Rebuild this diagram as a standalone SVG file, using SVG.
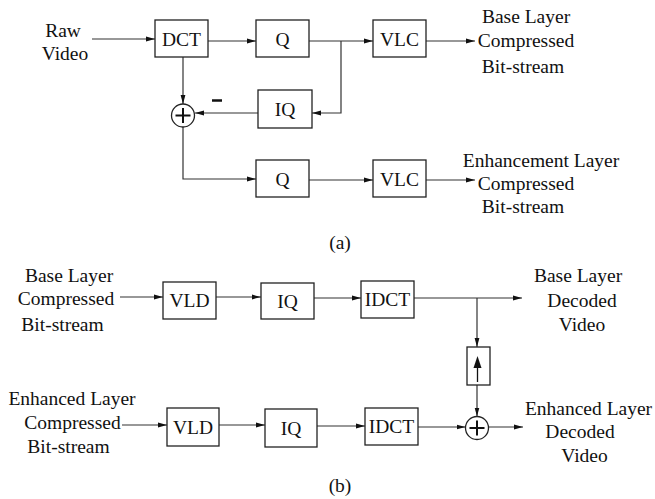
<svg xmlns="http://www.w3.org/2000/svg" width="655" height="499" viewBox="0 0 655 499">
<defs>
<marker id="ah" markerWidth="9" markerHeight="6" refX="9" refY="3" orient="auto" markerUnits="userSpaceOnUse">
<path d="M0,0.6 L9,3 L0,5.4 Z" fill="#111"/>
</marker>
<style>
.bx{fill:#fff;stroke:#222;stroke-width:1.3}
.t{font-family:"Liberation Serif","Times New Roman",serif;font-size:19.5px;fill:#111;text-anchor:middle}
.c{fill:none;stroke:#333;stroke-width:1.2}
.a{fill:none;stroke:#333;stroke-width:1.2;marker-end:url(#ah)}
</style>
</defs>
<rect width="655" height="499" fill="#fff"/>

<g id="connectors">
<!-- (a) -->
<line class="a" x1="92" y1="39" x2="155" y2="39"/>
<line class="a" x1="208" y1="41" x2="256" y2="41"/>
<line class="a" x1="309" y1="41" x2="373" y2="41"/>
<polyline class="a" points="341,41 341,113 312,113"/>
<line class="a" x1="258" y1="113" x2="195" y2="113"/>
<line class="a" x1="183" y1="57" x2="183" y2="104"/>
<polyline class="a" points="183,127 183,179 256,179"/>
<line class="a" x1="309" y1="180" x2="373" y2="180"/>
<line class="a" x1="426" y1="41" x2="475" y2="41"/>
<line class="a" x1="426" y1="180" x2="475" y2="180"/>
<!-- (b) -->
<line class="a" x1="120" y1="297" x2="163" y2="297"/>
<line class="a" x1="216" y1="297" x2="261" y2="297"/>
<line class="a" x1="314" y1="298" x2="361" y2="298"/>
<line class="a" x1="414" y1="298" x2="522" y2="298"/>
<line class="a" x1="477" y1="298" x2="477" y2="347"/>
<line class="a" x1="477" y1="385" x2="477" y2="416.5"/>
<line class="a" x1="122" y1="425" x2="167" y2="425"/>
<line class="a" x1="219" y1="425" x2="265" y2="425"/>
<line class="a" x1="317" y1="426" x2="365" y2="426"/>
<line class="a" x1="418" y1="427" x2="465.5" y2="427"/>
<line class="a" x1="488.5" y1="427" x2="523" y2="427"/>
</g>

<g id="raw-video"><text class="t" x="63" y="37">Raw</text><text class="t" x="65" y="60">Video</text></g>
<g id="dct"><rect class="bx" x="155" y="20" width="53" height="37"/><text class="t" x="181.5" y="45.5">DCT</text></g>
<g id="q1"><rect class="bx" x="256" y="20" width="53" height="37"/><text class="t" x="282.5" y="45.5">Q</text></g>
<g id="vlc1"><rect class="bx" x="373" y="20" width="53" height="37"/><text class="t" x="399.5" y="45.5">VLC</text></g>
<g id="iq1"><rect class="bx" x="258" y="90" width="54" height="38"/><text class="t" x="285" y="116">IQ</text></g>
<g id="sum1"><circle class="bx" cx="183" cy="115.5" r="11.5"/><path d="M175.5,115.5 H190.5 M183,108 V123" stroke="#111" stroke-width="2" fill="none"/></g>
<g id="minus"><line x1="212" y1="100.5" x2="222" y2="100.5" stroke="#111" stroke-width="2.5"/></g>
<g id="q2"><rect class="bx" x="256" y="160" width="53" height="37"/><text class="t" x="282.5" y="185.5">Q</text></g>
<g id="vlc2"><rect class="bx" x="373" y="160" width="53" height="37"/><text class="t" x="399.5" y="185.5">VLC</text></g>
<g id="base-out"><text class="t" x="526" y="23">Base Layer</text><text class="t" x="526" y="47">Compressed</text><text class="t" x="523" y="73">Bit-stream</text></g>
<g id="enh-out"><text class="t" x="541" y="167">Enhancement Layer</text><text class="t" x="526" y="190">Compressed</text><text class="t" x="523" y="213">Bit-stream</text></g>
<g id="label-a"><text class="t" x="340" y="249">(a)</text></g>

<g id="base-in"><text class="t" x="69" y="282">Base Layer</text><text class="t" x="66" y="305">Compressed</text><text class="t" x="62.5" y="331">Bit-stream</text></g>
<g id="vld1"><rect class="bx" x="163" y="282" width="53" height="37"/><text class="t" x="189.5" y="307">VLD</text></g>
<g id="iq2"><rect class="bx" x="261" y="283" width="53" height="36"/><text class="t" x="287.5" y="307.5">IQ</text></g>
<g id="idct1"><rect class="bx" x="361" y="281" width="53" height="37"/><text class="t" x="387.5" y="306">IDCT</text></g>
<g id="upsample"><rect class="bx" x="467" y="347" width="23" height="38"/><line x1="477.5" y1="382" x2="477.5" y2="366" stroke="#111" stroke-width="1.3"/><path d="M473.5,368 L477.5,356 L481.5,368 Z" fill="#111"/></g>
<g id="sum2"><circle class="bx" cx="477" cy="428" r="11.5"/><path d="M469.5,428 H484.5 M477,420.5 V435.5" stroke="#111" stroke-width="2" fill="none"/></g>
<g id="base-dec"><text class="t" x="578" y="282">Base Layer</text><text class="t" x="582" y="307">Decoded</text><text class="t" x="582" y="331">Video</text></g>
<g id="enh-in"><text class="t" x="72" y="405">Enhanced Layer</text><text class="t" x="72.5" y="429">Compressed</text><text class="t" x="68.5" y="453">Bit-stream</text></g>
<g id="vld2"><rect class="bx" x="167" y="408" width="52" height="38"/><text class="t" x="193" y="433.5">VLD</text></g>
<g id="iq3"><rect class="bx" x="265" y="409" width="52" height="38"/><text class="t" x="291" y="434.5">IQ</text></g>
<g id="idct2"><rect class="bx" x="365" y="408" width="53" height="37"/><text class="t" x="391.5" y="433">IDCT</text></g>
<g id="enh-dec"><text class="t" x="588.5" y="415">Enhanced Layer</text><text class="t" x="580" y="438">Decoded</text><text class="t" x="584.5" y="462">Video</text></g>
<g id="label-b"><text class="t" x="340" y="492">(b)</text></g>
</svg>
